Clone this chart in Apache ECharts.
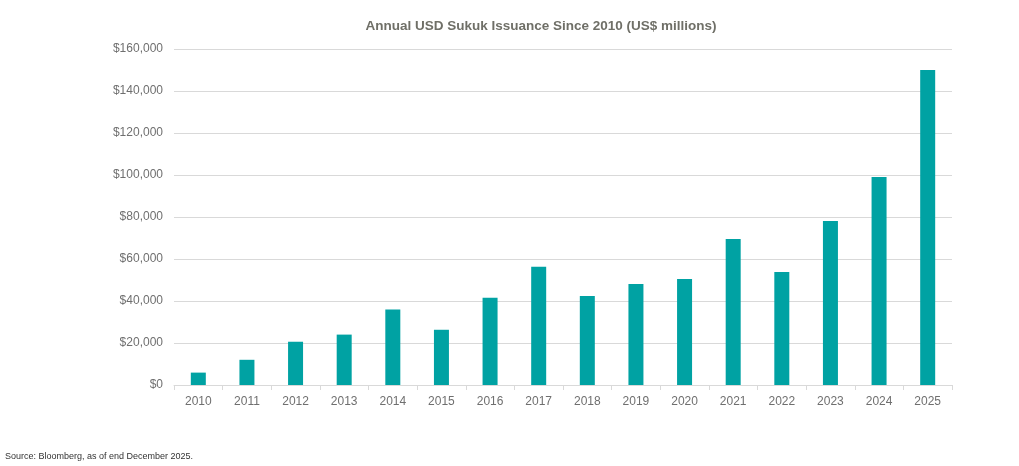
<!DOCTYPE html>
<html>
<head>
<meta charset="utf-8">
<script src="https://cdn.jsdelivr.net/npm/echarts@6/dist/echarts.min.js"></script>
<style>
  html, body { margin: 0; padding: 0; background: #fff; }
  #chart { width: 1019px; height: 466px; }
</style>
</head>
<body>
<div id="chart"></div>
<script>
var years = ['2010', '2011', '2012', '2013', '2014', '2015', '2016', '2017',
  '2018', '2019', '2020', '2021', '2022', '2023', '2024', '2025'];
// US$ millions
var issuance = [5900, 12000, 20600, 24000, 35900, 26300, 41600, 56300,
  42400, 48100, 50500, 69500, 53800, 78100, 99000, 150000];

var font = "'Liberation Sans Narrow', 'Arial Narrow', 'Liberation Sans', sans-serif";

var chart = echarts.init(document.getElementById('chart'), null, { renderer: 'canvas' });
chart.setOption({
  backgroundColor: '#fff',
  animation: false,
  title: [{
    text: 'Annual USD Sukuk Issuance Since 2010 (US$ millions)',
    left: 536,
    textAlign: 'center',
    top: 14,
    textStyle: { color: '#6f6f67', fontSize: 13.5, fontWeight: 'bold', fontFamily: font }
  }, {
    text: 'Source: Bloomberg, as of end December 2025.',
    left: 0,
    top: 447,
    textStyle: { color: '#333', fontSize: 9, fontWeight: 'normal', fontFamily: font }
  }],
  grid: { left: 174, right: 67, top: 49, bottom: 81 },
  xAxis: {
    type: 'category',
    data: years,
    axisLine: { lineStyle: { color: '#d9d9d9' } },
    axisTick: { show: true, lineStyle: { color: '#d9d9d9' }, length: 5 },
    axisLabel: { color: '#6f6f6f', fontSize: 12, fontFamily: font, margin: 11 }
  },
  yAxis: {
    type: 'value',
    min: 0,
    max: 160000,
    interval: 20000,
    axisLine: { show: false },
    axisTick: { show: false },
    splitLine: { lineStyle: { color: '#d9d9d9' } },
    axisLabel: {
      color: '#6f6f6f', fontSize: 12, fontFamily: font, margin: 11,
      formatter: function (v) { return '$' + v.toLocaleString('en-US'); }
    }
  },
  series: [{
    type: 'bar',
    data: issuance,
    barWidth: 15,
    itemStyle: { color: '#00a2a3' }
  }]
});
</script>
</body>
</html>
